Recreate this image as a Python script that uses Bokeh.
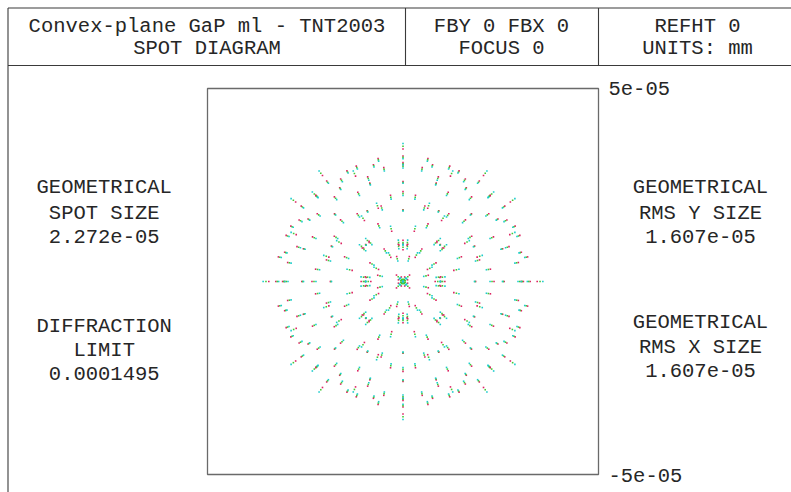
import numpy as np
from bokeh.plotting import figure
from bokeh.models import Range1d, ColumnDataSource
from bokeh.embed import file_html
from bokeh.resources import INLINE
from bokeh.core.properties import value

# ---------------- data ----------------
header_line1 = ["Convex-plane GaP ml - TNT2003", "FBY 0 FBX 0", "REFHT 0"]
header_line2 = ["SPOT DIAGRAM", "FOCUS 0", "UNITS: mm"]
left_labels = ["GEOMETRICAL", "SPOT SIZE", "2.272e-05", "DIFFRACTION", "LIMIT", "0.0001495"]
right_labels = ["GEOMETRICAL", "RMS Y SIZE", "1.607e-05", "GEOMETRICAL", "RMS X SIZE", "1.607e-05"]
axis_limits_mm = [-5e-05, 5e-05]
axis_tick_labels = ["-5e-05", "5e-05"]

# square pupil grid (rays per pupil radius); transverse ray error per wavelength:
# r(rho) = spherical * rho^3 - defocus * rho
pupil_grid_n = 10
wavelength_colors = ["#dc2462", "#45c935", "#1ccccc"]   # pink, green, cyan
spherical_mm = [1.325e-04, 1.325e-04, 1.325e-04]
defocus_mm = [9.818e-05, 9.745e-05, 9.673e-05]

# ---------------- layout (picture pixels) ----------------
W, H = 791, 492
box_l, box_r, box_t, box_b = 207, 598, 88, 474
font = value("Liberation Mono")
fsize = "20.5px"
tcol = "#262626"

p = figure(width=W, height=H, x_range=Range1d(0, W), y_range=Range1d(H, 0),
           x_axis_type=None, y_axis_type=None, min_border=0,
           toolbar_location=None, output_backend="svg")
p.grid.visible = False
p.outline_line_color = None
p.background_fill_color = "white"
p.border_fill_color = "white"

span = axis_limits_mm[1] - axis_limits_mm[0]
sx = (box_r - box_l) / span
sy = (box_b - box_t) / span
p.extra_x_ranges = {"mm": Range1d(axis_limits_mm[0] - box_l / sx,
                                  axis_limits_mm[1] + (W - box_r) / sx)}
p.extra_y_ranges = {"mm": Range1d(axis_limits_mm[0] - (H - box_b) / sy,
                                  axis_limits_mm[1] + box_t / sy)}

# frame lines
hdr_t, hdr_b, fr_l = 7.5, 65, 7.5
p.segment(x0=[fr_l, fr_l, fr_l, 405, 598], y0=[hdr_t, hdr_b, hdr_t, hdr_t, hdr_t],
          x1=[W, W, fr_l, 405, 598], y1=[hdr_t, hdr_b, H, hdr_b, hdr_b],
          line_color="#3a3a3a", line_width=1.1)

# header texts
hx = [206.5, 501, 697]
p.text(x=hx, y=[25.5] * 3, text=header_line1, text_font=font, text_font_size=fsize,
       text_align="center", text_baseline="middle", text_color=tcol)
p.text(x=hx, y=[47.5] * 3, text=header_line2, text_font=font, text_font_size=fsize,
       text_align="center", text_baseline="middle", text_color=tcol)

# side texts
p.text(x=[103.7] * 6, y=[187.3, 213.3, 236.3, 326, 349.7, 373], text=left_labels,
       text_font=font, text_font_size=fsize, text_align="center",
       text_baseline="middle", text_color=tcol)
p.text(x=[700] * 6, y=[187.3, 213, 236, 321.7, 346.7, 370], text=right_labels,
       text_font=font, text_font_size=fsize, text_align="center",
       text_baseline="middle", text_color=tcol)

# plot box in mm
p.quad(left=[axis_limits_mm[0]], right=[axis_limits_mm[1]],
       bottom=[axis_limits_mm[0]], top=[axis_limits_mm[1]],
       fill_alpha=0, line_color="#6a6a6a", line_width=1.3,
       x_range_name="mm", y_range_name="mm")
p.text(x=[axis_limits_mm[1]] * 2, y=axis_limits_mm, text=axis_tick_labels,
       x_offset=10, y_offset=[1, 0], text_font=font, text_font_size=fsize,
       text_align="left", text_baseline="middle", text_color=tcol,
       x_range_name="mm", y_range_name="mm")

# spot diagram: rays on a square pupil grid traced to the image plane
n = pupil_grid_n
ii, jj = np.meshgrid(np.arange(-n, n + 1), np.arange(-n, n + 1))
mask = ii ** 2 + jj ** 2 <= n * n
px = ii[mask] / n
py = jj[mask] / n
rho2 = px ** 2 + py ** 2
for col, a, d in zip(wavelength_colors, spherical_mm, defocus_mm):
    k = a * rho2 - d
    src = ColumnDataSource(dict(x=k * px, y=k * py))
    p.scatter("x", "y", source=src, marker="square", size=1.6,
              fill_color=col, line_color=None,
              x_range_name="mm", y_range_name="mm")

open("out.html", "w").write(file_html(p, INLINE))
